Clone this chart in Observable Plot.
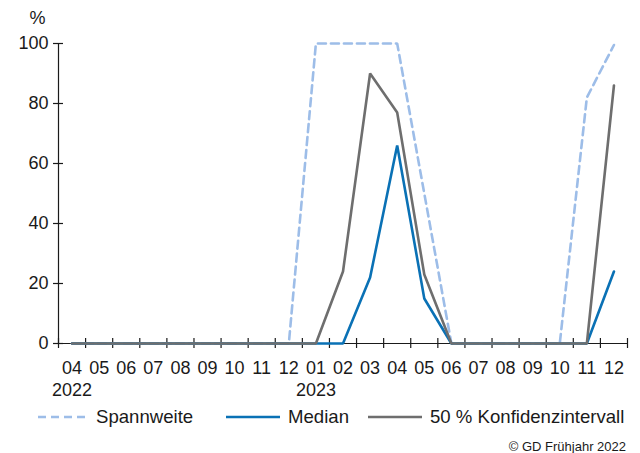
<!DOCTYPE html>
<html>
<head>
<meta charset="utf-8">
<script src="https://cdn.jsdelivr.net/npm/d3@7"></script>
<script src="https://cdn.jsdelivr.net/npm/@observablehq/plot@0.6"></script>
<style>
  html, body { margin: 0; padding: 0; background: #fff; }
  body { width: 640px; height: 453px; position: relative; font-family: "Liberation Sans", Arial, Helvetica, sans-serif; color: #1a1a1a; overflow: hidden; }
  #chart { position: absolute; left: 0; top: 0; }
  .legend { position: absolute; top: 406px; left: 0; width: 640px; height: 22px; font-size: 18.6px; }
  .item { position: absolute; top: 0; display: flex; align-items: center; height: 22px; white-space: nowrap; }
  .item svg { margin-right: 8px; }
  .caption { position: absolute; right: 14px; top: 439px; font-size: 13px; color: #1a1a1a; }
</style>
</head>
<body>
<div id="chart"></div>
<div class="legend" id="legend"></div>
<div class="caption">© GD Frühjahr 2022</div>
<script>
// Month tick labels (04/2022 … 12/2023)
const months = ["04","05","06","07","08","09","10","11","12","01","02","03","04","05","06","07","08","09","10","11","12"];
const years  = ["2022","","","","","","","","","2023","","","","","","","","","","",""];
const yTicks = [0, 20, 40, 60, 80, 100];

// Series values (percent)
const spannweite = [0,0,0,0,0,0,0,0,0,100,100,100,100,50,0,0,0,0,0,82,99.5];
const median     = [0,0,0,0,0,0,0,0,0,0,0,22,66,15,0,0,0,0,0,0,24];
const konfidenz  = [0,0,0,0,0,0,0,0,0,0,24,90,77,23,0,0,0,0,0,0,86];

const seriesNames = ["Spannweite", "Median", "50 % Konfidenzintervall"];
const colors = { "Spannweite": "#9dbde8", "Median": "#0a71b5", "50 % Konfidenzintervall": "#6e6e6e" };

const idx = d3.range(months.length);
const toRows = (arr) => arr.map((v, i) => ({ i, v }));
const boundaries = d3.range(months.length + 1).map(i => i - 0.5);

const chart = Plot.plot({
  width: 640,
  height: 402,
  marginLeft: 58,
  marginRight: 13,
  marginTop: 43,
  marginBottom: 59,
  style: { fontFamily: "Liberation Sans, Arial, Helvetica, sans-serif", fontSize: "18px", color: "#1a1a1a", background: "white" },
  x: { type: "linear", domain: [-0.5, months.length - 0.5] },
  y: { domain: [0, 100] },
  marks: [
    Plot.axisY({ ticks: yTicks, tickSize: 0, tickPadding: 10, label: null, fontSize: 18 }),
    Plot.ruleY(yTicks, { x1: -0.5 - 5 / 27.1, x2: -0.5 + 5 / 27.1, stroke: "#1a1a1a", strokeWidth: 1.2 }),
    Plot.axisX({
      ticks: idx, tickSize: 0, tickPadding: 15, label: null, fontSize: 18, lineHeight: 1.22,
      tickFormat: i => years[i] ? months[i] + "\n" + years[i] : months[i]
    }),
    Plot.ruleX(boundaries, { y1: -5 / 3, y2: 5 / 3, stroke: "#1a1a1a", strokeWidth: 1.2 }),
    Plot.ruleX([-0.5], { y1: 0, y2: 100, stroke: "#1a1a1a", strokeWidth: 1.2 }),
    Plot.ruleY([0], { stroke: "#1a1a1a", strokeWidth: 1.2 }),
    Plot.text(["%"], { frameAnchor: "top-left", dx: -21, dy: -25, textAnchor: "middle", lineAnchor: "middle", fontSize: 18, fill: "#1a1a1a" }),
    Plot.line(toRows(spannweite), { x: "i", y: "v", stroke: colors["Spannweite"], strokeWidth: 2.6, strokeDasharray: "8,5", strokeLinejoin: "miter" }),
    Plot.line(toRows(median), { x: "i", y: "v", stroke: colors["Median"], strokeWidth: 2.6, strokeLinejoin: "miter" }),
    Plot.line(toRows(konfidenz), { x: "i", y: "v", stroke: colors["50 % Konfidenzintervall"], strokeWidth: 2.6, strokeLinejoin: "miter" })
  ]
});
document.getElementById("chart").appendChild(chart);

// Legend
const legendPos = [{ left: 38, w: 50 }, { left: 226, w: 54 }, { left: 368, w: 54 }];
const legend = document.getElementById("legend");
seriesNames.forEach((name, k) => {
  const item = document.createElement("div");
  item.className = "item";
  item.style.left = legendPos[k].left + "px";
  const w = legendPos[k].w;
  const dash = name === "Spannweite" ? 'stroke-dasharray="8,5"' : "";
  item.innerHTML = `<svg width="${w}" height="6"><line x1="0" y1="3" x2="${w}" y2="3" stroke="${colors[name]}" stroke-width="2.6" ${dash}/></svg><span>${name}</span>`;
  legend.appendChild(item);
});
</script>
</body>
</html>
